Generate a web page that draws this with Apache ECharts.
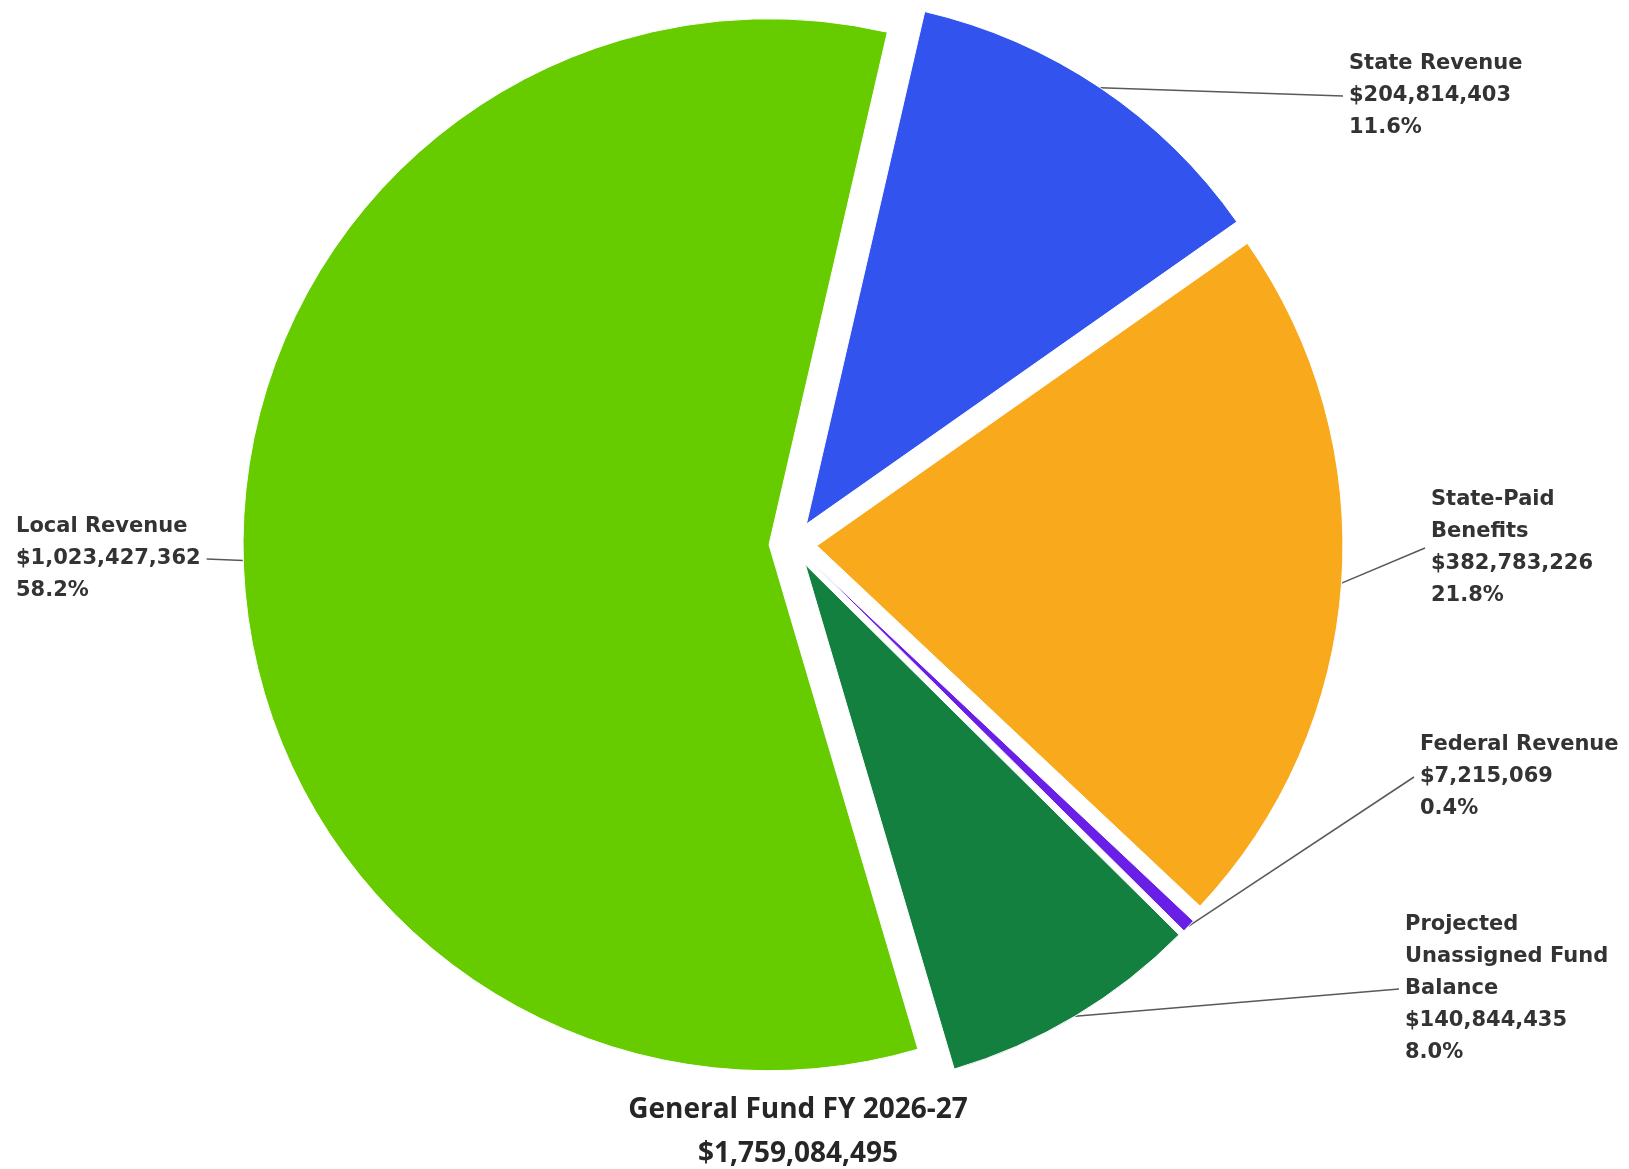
<!DOCTYPE html>
<html>
<head>
<meta charset="utf-8">
<script src="https://cdn.jsdelivr.net/npm/echarts@6/dist/echarts.min.js"></script>
<style>
  html, body { margin: 0; padding: 0; background: #fff; }
  #chart { width: 1629px; height: 1169px; }
</style>
</head>
<body>
<div id="chart"></div>
<script>
// slices, clockwise from the top
const categories = [
  "State Revenue",
  "State-Paid Benefits",
  "Federal Revenue",
  "Projected Unassigned Fund Balance",
  "Local Revenue"
];
const labelNames = [
  "State Revenue",
  "State-Paid\nBenefits",
  "Federal Revenue",
  "Projected\nUnassigned Fund\nBalance",
  "Local Revenue"
];
const amounts = [204814403, 382783226, 7215069, 140844435, 1023427362];
const colors = ["#3353ee", "#f8a91c", "#6a1fe6", "#13803f", "#66cc00"];
const chartTitle = "General Fund FY 2026-27";

// pie geometry (px) and exploded distance of every slice
const pieCenter = [793, 544];
const pieRadius = 526;
const explode = 24;
const firstSliceAngle = 13; // degrees clockwise from 12 o'clock

// top-left corner of each label box (px)
const labelPos = [[1349, 48], [1431, 484], [1420, 729], [1405, 909], [16, 511]];

const total = amounts.reduce((a, b) => a + b, 0);
const money = (v) => "$" + v.toLocaleString("en-US");

// every slice is drawn by its own pie series, moved out along its mid angle
let before = 0;
const series = amounts.map((amount, k) => {
  const mid = (firstSliceAngle + (before + amount / 2) / total * 360) * Math.PI / 180;
  before += amount;
  return {
    type: "pie",
    center: [pieCenter[0] + explode * Math.sin(mid), pieCenter[1] - explode * Math.cos(mid)],
    radius: pieRadius,
    startAngle: 90 - firstSliceAngle,
    clockwise: true,
    avoidLabelOverlap: false,
    silent: true,
    emphasis: { disabled: true },
    label: {
      show: true,
      position: "outside",
      fontFamily: "DejaVu Sans",
      fontWeight: "bold",
      fontSize: 21,
      lineHeight: 32,
      color: "#333333",
      formatter: (p) =>
        labelNames[p.dataIndex] + "\n" + money(p.value) + "\n" +
        (p.value / total * 100).toFixed(1) + "%"
    },
    labelLine: {
      show: true,
      lineStyle: { color: "#595959", width: 1.5 }
    },
    labelLayout: (params) => {
      const i = params.dataIndex;
      if (i !== k) return {};
      const [x, y] = labelPos[i];
      const w = params.labelRect.width;
      const h = params.labelRect.height;
      const isLeft = x < pieCenter[0];
      const end = isLeft ? [x + w + 6, y + h / 2] : [x - 6, y + h / 2];
      const start = params.labelLinePoints ? params.labelLinePoints[0] : end;
      return {
        x: x,
        y: y,
        align: "left",
        verticalAlign: "top",
        labelLinePoints: [start, end, end]
      };
    },
    data: categories.map((name, i) => ({
      name: name,
      value: amounts[i],
      itemStyle: i === k
        ? { color: colors[i], borderColor: "#ffffff", borderWidth: 1 }
        : { color: "rgba(0,0,0,0)", borderWidth: 0 },
      label: { show: i === k },
      labelLine: { show: i === k }
    }))
  };
});

const chart = echarts.init(document.getElementById("chart"));
chart.setOption({
  animation: false,
  backgroundColor: "#ffffff",
  title: {
    text: chartTitle + "\n" + money(total),
    left: 793,
    top: 1083,
    textAlign: "center",
    textStyle: {
      fontFamily: "Open Sans",
      fontWeight: "bold",
      fontSize: 28,
      lineHeight: 44,
      color: "#262626"
    }
  },
  series: series
});
</script>
</body>
</html>
